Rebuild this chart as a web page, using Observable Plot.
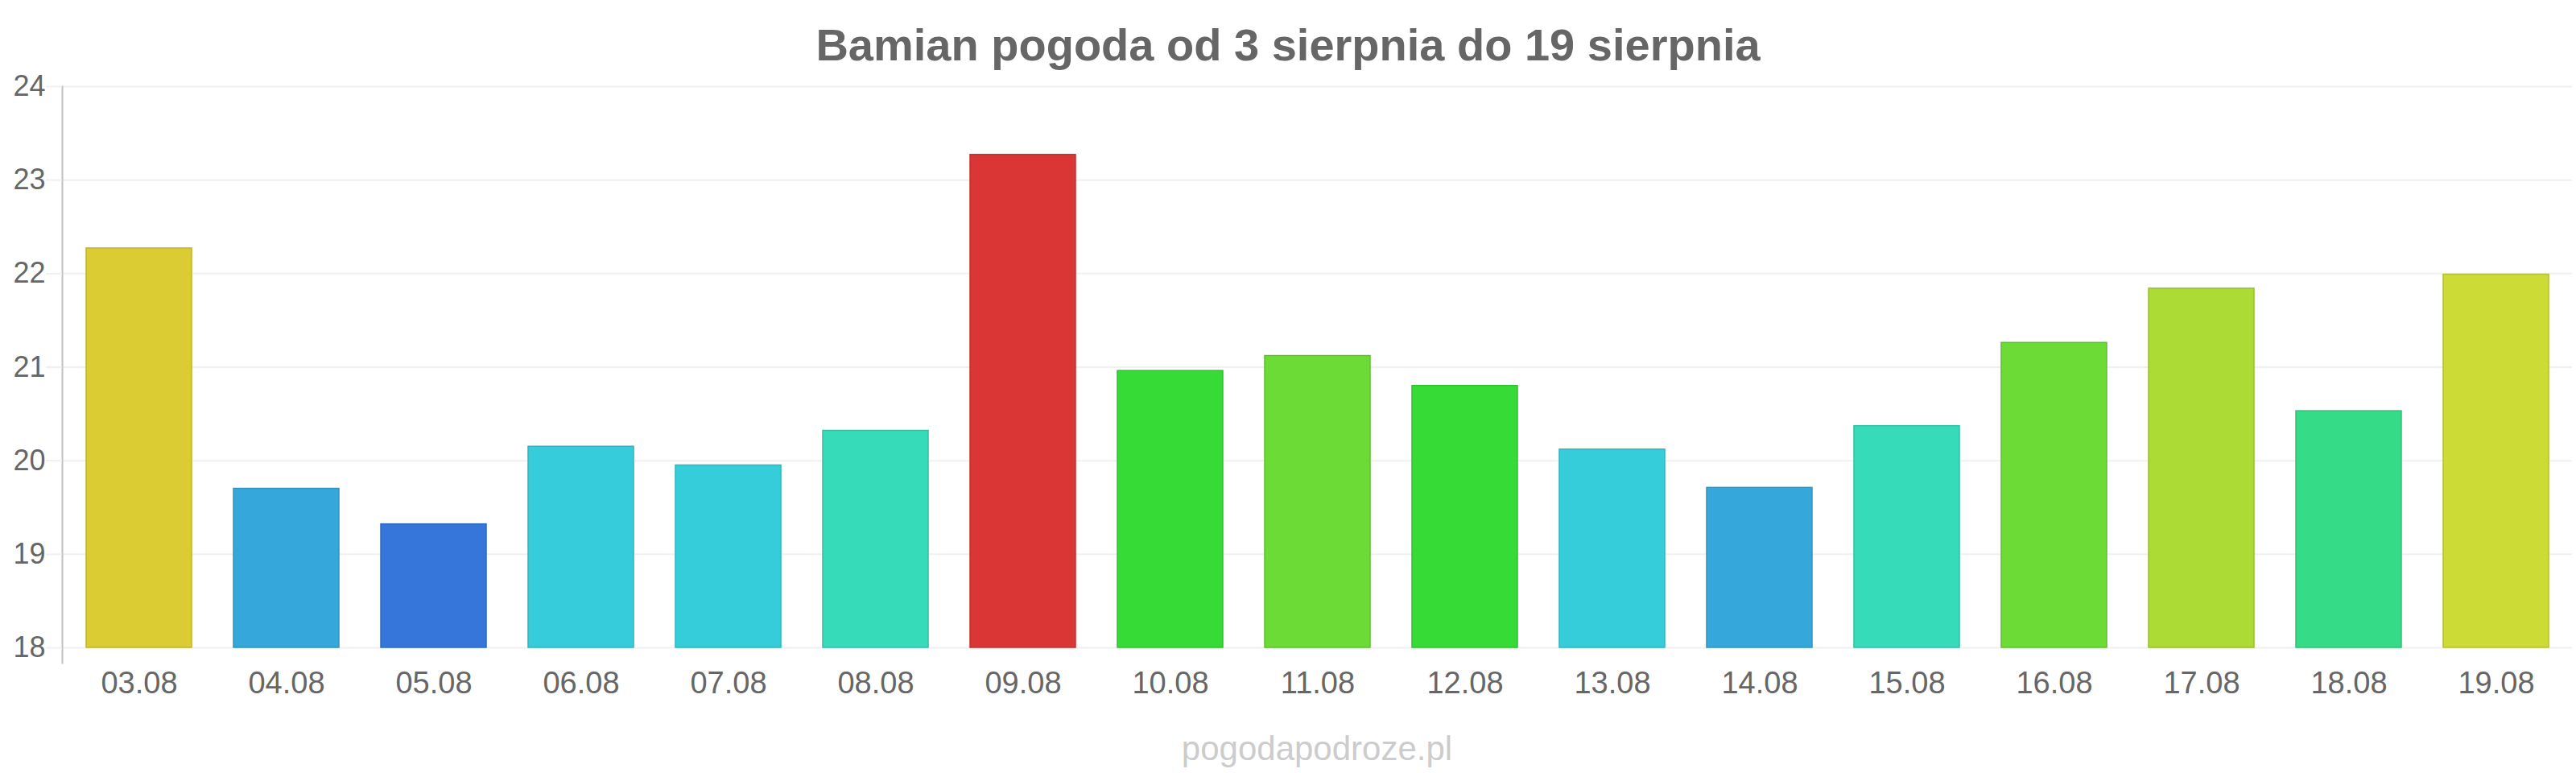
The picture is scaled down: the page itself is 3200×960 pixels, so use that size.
<!DOCTYPE html>
<html>
<head>
<meta charset="utf-8">
<script src="https://cdn.jsdelivr.net/npm/d3@7"></script>
<script src="https://cdn.jsdelivr.net/npm/@observablehq/plot@0.6"></script>
<style>
  html, body { margin: 0; padding: 0; background: #fff; }
  #wrap { position: relative; width: 3200px; height: 960px; overflow: hidden; }
  #title { position: absolute; left: 0; top: 27.6px; width: 3200px; text-align: center;
           font: bold 56px/56px "Liberation Sans", Arial, sans-serif; color: #666; }
  #credit { position: absolute; left: 77px; top: 908.5px; width: 3118px; text-align: center;
            font: 42px/42px "Liberation Sans", Arial, sans-serif; color: #ccc; }
</style>
</head>
<body>
<div id="wrap"></div>
<script>
const dates = ["03.08","04.08","05.08","06.08","07.08","08.08","09.08","10.08","11.08","12.08","13.08","14.08","15.08","16.08","17.08","18.08","19.08"];
const temps = [22.27, 19.70, 19.32, 20.15, 19.95, 20.32, 23.27, 20.96, 21.12, 20.80, 20.12, 19.71, 20.37, 21.26, 21.84, 20.53, 21.99];
const colors = ["#dbcc34","#36a7db","#3676db","#36ccdb","#36cddb","#36dbb9","#db3636","#36db36","#6cdb36","#36db36","#36cddb","#36a7db","#36dbb9","#6cdb36","#acdb36","#36db88","#cddb36"];
const yTicks = [18, 19, 20, 21, 22, 23, 24];
const titleText = "Bamian pogoda od 3 sierpnia do 19 sierpnia";
const creditText = "pogodapodroze.pl";

const data = dates.map((d, i) => ({date: d, temp: temps[i], color: colors[i], border: d3.color(colors[i]).darker(0.35).formatHex()}));
const yMin = yTicks[0];

const chart = Plot.plot({
  width: 3200,
  height: 960,
  marginLeft: 77,
  marginRight: 5,
  marginTop: 107,
  marginBottom: 156,
  style: {fontFamily: "'Liberation Sans', Arial, sans-serif", background: "white"},
  x: {type: "band", domain: dates, padding: 0},
  y: {domain: [yTicks[0], yTicks[yTicks.length - 1]]},
  color: {type: "identity"},
  marks: [
    Plot.gridY(yTicks, {stroke: "#f0f0f0", strokeOpacity: 1, strokeWidth: 2}),
    Plot.barY(data, {x: "date", y1: () => yMin, y2: "temp", fill: "color", stroke: "border", strokeWidth: 1.5, insetLeft: 26, insetRight: 26}),
    Plot.frame({anchor: "left", stroke: "#c0c0c0", strokeWidth: 2, insetBottom: -19}),
    Plot.axisY(yTicks, {tickSize: 20, tickPadding: 1, stroke: "#f0f0f0", strokeWidth: 2, fill: "#666", fontSize: 36, tickFormat: d => String(d), label: null}),
    Plot.axisX({tickSize: 0, tickPadding: 30, fill: "#666", fontSize: 38, label: null})
  ]
});

const wrap = document.getElementById("wrap");
wrap.appendChild(chart);
const t = document.createElement("div");
t.id = "title"; t.textContent = titleText; wrap.appendChild(t);
const c = document.createElement("div");
c.id = "credit"; c.textContent = creditText; wrap.appendChild(c);
</script>
</body>
</html>
